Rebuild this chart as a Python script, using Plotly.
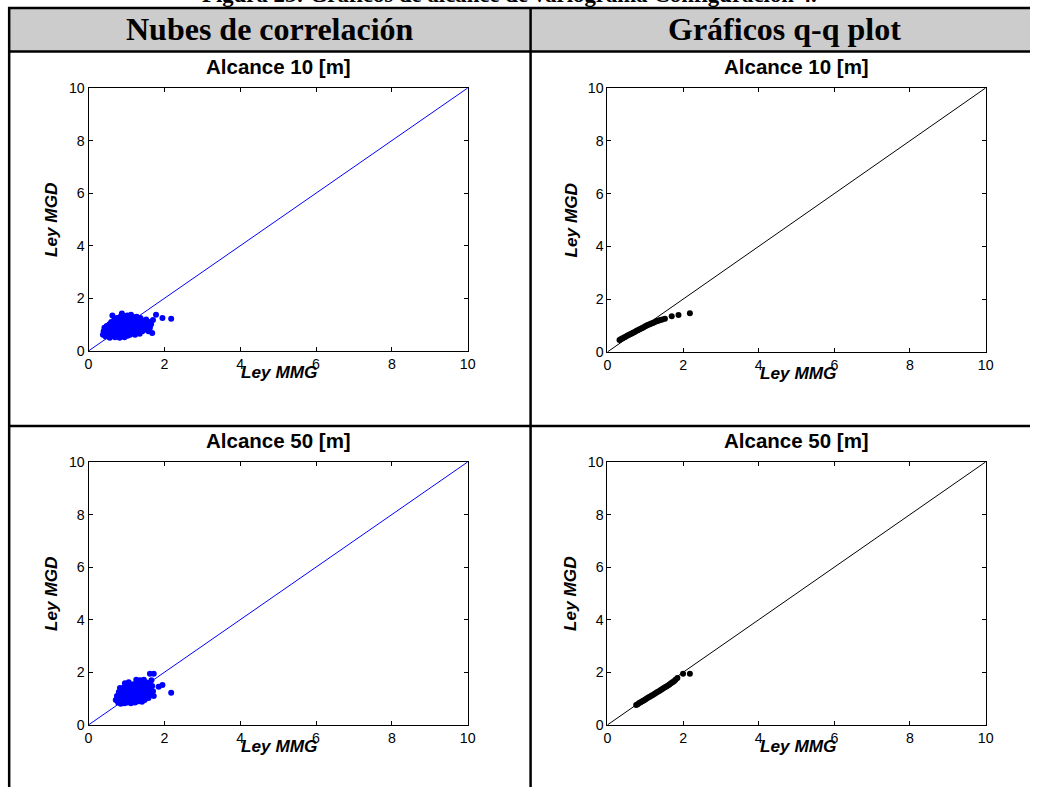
import plotly.graph_objects as go

W, H = 1038, 795

# ---------------- data ----------------
cloud10_x = [0.38, 0.40, 0.42, 0.45, 0.47, 0.48, 0.50, 0.52, 0.55, 0.56, 0.58, 0.60, 0.60, 0.62, 0.63, 0.65,
             0.66, 0.68, 0.70, 0.70, 0.72, 0.73, 0.75, 0.76, 0.78, 0.79, 0.80, 0.82, 0.83, 0.84, 0.85, 0.87,
             0.88, 0.89, 0.90, 0.91, 0.93, 0.94, 0.95, 0.96, 0.98, 0.99, 1.00, 1.01, 1.03, 1.04, 1.05, 1.06,
             1.08, 1.10, 1.11, 1.12, 1.13, 1.15, 1.17, 1.18, 1.20, 1.21, 1.23, 1.25, 1.26, 1.28, 1.30, 1.32,
             1.33, 1.35, 1.37, 1.38, 1.40, 1.42, 1.44, 1.46, 1.48, 1.50, 1.52, 1.55, 1.58, 1.60, 1.62, 1.65,
             1.68, 1.70, 1.78, 1.95, 2.18, 0.58, 0.67, 0.77, 0.92, 1.02, 1.09, 1.16, 1.22, 1.27, 0.53, 0.43]
cloud10_y = [0.62, 0.75, 0.88, 0.55, 0.70, 0.95, 0.82, 0.60, 1.02, 0.50, 0.72, 0.88, 1.10, 0.58, 1.35, 0.78,
             0.98, 1.18, 0.52, 0.66, 0.90, 1.05, 1.25, 0.60, 0.78, 0.95, 1.12, 0.50, 0.68, 1.30, 0.85, 1.02,
             1.42, 0.58, 0.75, 1.18, 0.92, 1.08, 0.52, 1.30, 0.66, 0.82, 1.00, 1.15, 0.58, 0.75, 0.90, 1.25,
             1.05, 0.62, 0.80, 1.38, 0.95, 1.15, 0.70, 0.88, 1.05, 1.28, 0.62, 0.80, 0.98, 1.18, 0.72, 0.90,
             1.08, 0.65, 1.25, 0.85, 1.00, 0.75, 1.15, 0.92, 1.05, 0.82, 1.20, 0.95, 0.75, 1.10, 0.88, 1.02,
             0.68, 1.18, 1.38, 1.25, 1.22, 0.95, 0.88, 1.18, 0.68, 1.35, 0.72, 1.22, 0.75, 1.30, 0.68, 0.62]

cloud50_x = [0.72, 0.75, 0.78, 0.80, 0.82, 0.85, 0.86, 0.88, 0.90, 0.92, 0.93, 0.95, 0.97, 0.98, 1.00, 1.02,
             1.03, 1.05, 1.07, 1.08, 1.10, 1.12, 1.13, 1.15, 1.17, 1.18, 1.20, 1.22, 1.23, 1.25, 1.27, 1.28,
             1.30, 1.32, 1.33, 1.35, 1.37, 1.38, 1.40, 1.42, 1.43, 1.45, 1.47, 1.48, 1.50, 1.52, 1.55, 1.57,
             1.58, 1.60, 1.62, 1.65, 1.68, 1.70, 1.72, 1.62, 1.72, 1.85, 1.95, 2.18, 0.83, 0.96, 1.06, 1.16,
             1.26, 1.36, 1.46, 1.56, 0.88, 1.00, 1.11, 1.21, 1.31, 1.41, 1.51, 1.66]
cloud50_y = [0.95, 1.10, 0.85, 1.25, 1.02, 0.80, 1.15, 1.32, 0.92, 1.05, 1.42, 0.82, 1.20, 0.98, 1.35, 0.85,
             1.10, 1.48, 0.92, 1.25, 1.05, 0.82, 1.38, 1.18, 0.95, 1.55, 1.08, 1.30, 0.85, 1.45, 1.00, 1.20,
             1.62, 0.90, 1.35, 1.12, 1.50, 0.98, 1.25, 1.40, 1.05, 1.58, 1.18, 0.95, 1.32, 1.10, 1.45, 1.22,
             1.02, 1.60, 1.35, 1.15, 1.48, 1.28, 1.10, 1.95, 1.95, 1.45, 1.52, 1.22, 1.40, 1.58, 1.62, 1.42,
             1.72, 1.70, 1.72, 1.38, 1.05, 0.92, 1.00, 0.92, 1.12, 0.88, 1.62, 1.70]

qq10_x = [0.32, 0.36, 0.40, 0.44, 0.48, 0.52, 0.56, 0.60, 0.64, 0.68, 0.72, 0.76, 0.80, 0.84, 0.88, 0.92,
          0.96, 1.00, 1.04, 1.08, 1.12, 1.16, 1.20, 1.24, 1.28, 1.32, 1.36, 1.40, 1.45, 1.52, 1.70, 1.88, 2.18]
qq10_y = [0.45, 0.49, 0.52, 0.55, 0.58, 0.61, 0.64, 0.67, 0.70, 0.73, 0.76, 0.79, 0.82, 0.85, 0.88, 0.91,
          0.94, 0.97, 1.00, 1.03, 1.05, 1.08, 1.10, 1.13, 1.15, 1.17, 1.19, 1.21, 1.23, 1.26, 1.35, 1.40, 1.47]

qq50_x = [0.76, 0.80, 0.84, 0.88, 0.92, 0.96, 1.00, 1.04, 1.08, 1.12, 1.16, 1.20, 1.24, 1.28, 1.32, 1.36,
          1.40, 1.44, 1.48, 1.52, 1.56, 1.60, 1.64, 1.68, 1.72, 1.76, 1.80, 1.85, 2.00, 2.18]
qq50_y = [0.76, 0.79, 0.83, 0.86, 0.90, 0.93, 0.97, 1.00, 1.04, 1.07, 1.11, 1.14, 1.18, 1.21, 1.25, 1.28,
          1.32, 1.36, 1.39, 1.43, 1.46, 1.50, 1.54, 1.58, 1.62, 1.66, 1.72, 1.78, 1.95, 1.95]

diag = [0, 10]
tick_vals = [0, 2, 4, 6, 8, 10]

fig_title = "Figura 23: Gráficos de alcance de variograma Configuración 4."
col_headers = ["Nubes de correlación", "Gráficos q-q plot"]
panel_titles = ["Alcance 10 [m]", "Alcance 10 [m]", "Alcance 50 [m]", "Alcance 50 [m]"]
x_label = "Ley MMG"
y_label = "Ley MGD"

# mapping from target picture pixels to figure paper coordinates (measured page offset/scale)
SX, OX = 0.9905, -5.7
SY, OY = 0.980, 0.0


def X(px):
    return ((px - OX) / SX) / W


def Y(py):
    return 1 - ((py - OY) / SY) / H


fig = go.Figure()

panels = [
    (cloud10_x, cloud10_y, "#0000ff", "x", "y"),
    (qq10_x, qq10_y, "#000000", "x2", "y2"),
    (cloud50_x, cloud50_y, "#0000ff", "x3", "y3"),
    (qq50_x, qq50_y, "#000000", "x4", "y4"),
]
for xs, ys, col, xa, ya in panels:
    fig.add_trace(go.Scatter(x=diag, y=diag, mode="lines", line=dict(color=col, width=1),
                             xaxis=xa, yaxis=ya, showlegend=False, hoverinfo="skip"))
    fig.add_trace(go.Scatter(x=xs, y=ys, mode="markers",
                             marker=dict(color=col, size=6, line=dict(width=0)),
                             xaxis=xa, yaxis=ya, showlegend=False))

# panel pixel boxes (left, right, top, bottom) in target-picture pixels
boxes = [(87, 467, 88, 351), (607, 986, 88, 352), (87, 467, 462, 725), (607, 986, 462, 725)]

axis_common = dict(range=[0, 10], tickvals=tick_vals, ticks="inside", ticklen=4, tickwidth=1,
                   tickcolor="black", showline=True, linecolor="black", linewidth=1, mirror="ticks",
                   showgrid=False, zeroline=False,
                   tickfont=dict(family="Liberation Sans, Arial", size=14.2, color="black"))
layout_axes = {}
for i, (l, r, t, b) in enumerate(boxes):
    sfx = "" if i == 0 else str(i + 1)
    layout_axes["xaxis" + sfx] = dict(domain=[X(l), X(r)], anchor="y" + sfx, **axis_common)
    layout_axes["yaxis" + sfx] = dict(domain=[Y(b), Y(t)], anchor="x" + sfx, **axis_common)

annotations = []
# figure title (cut at top)
annotations.append(dict(x=X(509), y=Y(-6), xref="paper", yref="paper", text="<b>" + fig_title + "</b>",
                        showarrow=False, xanchor="center", yanchor="middle",
                        font=dict(family="Liberation Serif, Times New Roman", size=22.8, color="black")))
for txt, cx in zip(col_headers, [269, 784]):
    annotations.append(dict(x=X(cx), y=Y(29), xref="paper", yref="paper", text="<b>" + txt + "</b>",
                            showarrow=False, xanchor="center", yanchor="middle",
                            font=dict(family="Liberation Serif, Times New Roman", size=32, color="black")))
for txt, (l, r, t, b) in zip(panel_titles, boxes):
    cx = (l + r) / 2
    annotations.append(dict(x=X(cx), y=Y(t - 21), xref="paper", yref="paper", text="<b>" + txt + "</b>",
                            showarrow=False, xanchor="center", yanchor="middle",
                            font=dict(family="Liberation Sans, Arial", size=20.5, color="black")))
    annotations.append(dict(x=X(cx + 1), y=Y(b + 21), xref="paper", yref="paper",
                            text="<b><i>" + x_label + "</i></b>",
                            showarrow=False, xanchor="center", yanchor="middle",
                            font=dict(family="Liberation Sans, Arial", size=17.2, color="black")))
    annotations.append(dict(x=X(l - 37), y=Y((t + b) / 2), xref="paper", yref="paper",
                            text="<b><i>" + y_label + "</i></b>", textangle=-90,
                            showarrow=False, xanchor="center", yanchor="middle",
                            font=dict(family="Liberation Sans, Arial", size=17.2, color="black")))

shapes = [
    dict(type="rect", xref="paper", yref="paper", x0=X(7.5), x1=X(1060), y0=Y(8), y1=Y(51.5),
         fillcolor="#cccccc", line=dict(width=0), layer="below"),
]
lw = 2.5
for (x0, y0, x1, y1) in [(6.5, 8, 1060, 8), (6.5, 51.5, 1060, 51.5), (6.5, 426, 1060, 426),
                         (7.5, 7, 7.5, 820), (530, 7, 530, 820)]:
    shapes.append(dict(type="line", xref="paper", yref="paper", x0=X(x0), x1=X(x1), y0=Y(y0), y1=Y(y1),
                       line=dict(color="black", width=lw)))

# size comes from the graph div; the div is pulled over the page's default margin
fig.update_layout(autosize=True, margin=dict(l=0, r=0, t=0, b=0, pad=0),
                  paper_bgcolor="white", plot_bgcolor="white",
                  annotations=annotations, shapes=shapes, **layout_axes)

fig.write_html("out.html", default_width="%dpx" % W,
               default_height="%dpx;margin:-8px;overflow:hidden" % H)
